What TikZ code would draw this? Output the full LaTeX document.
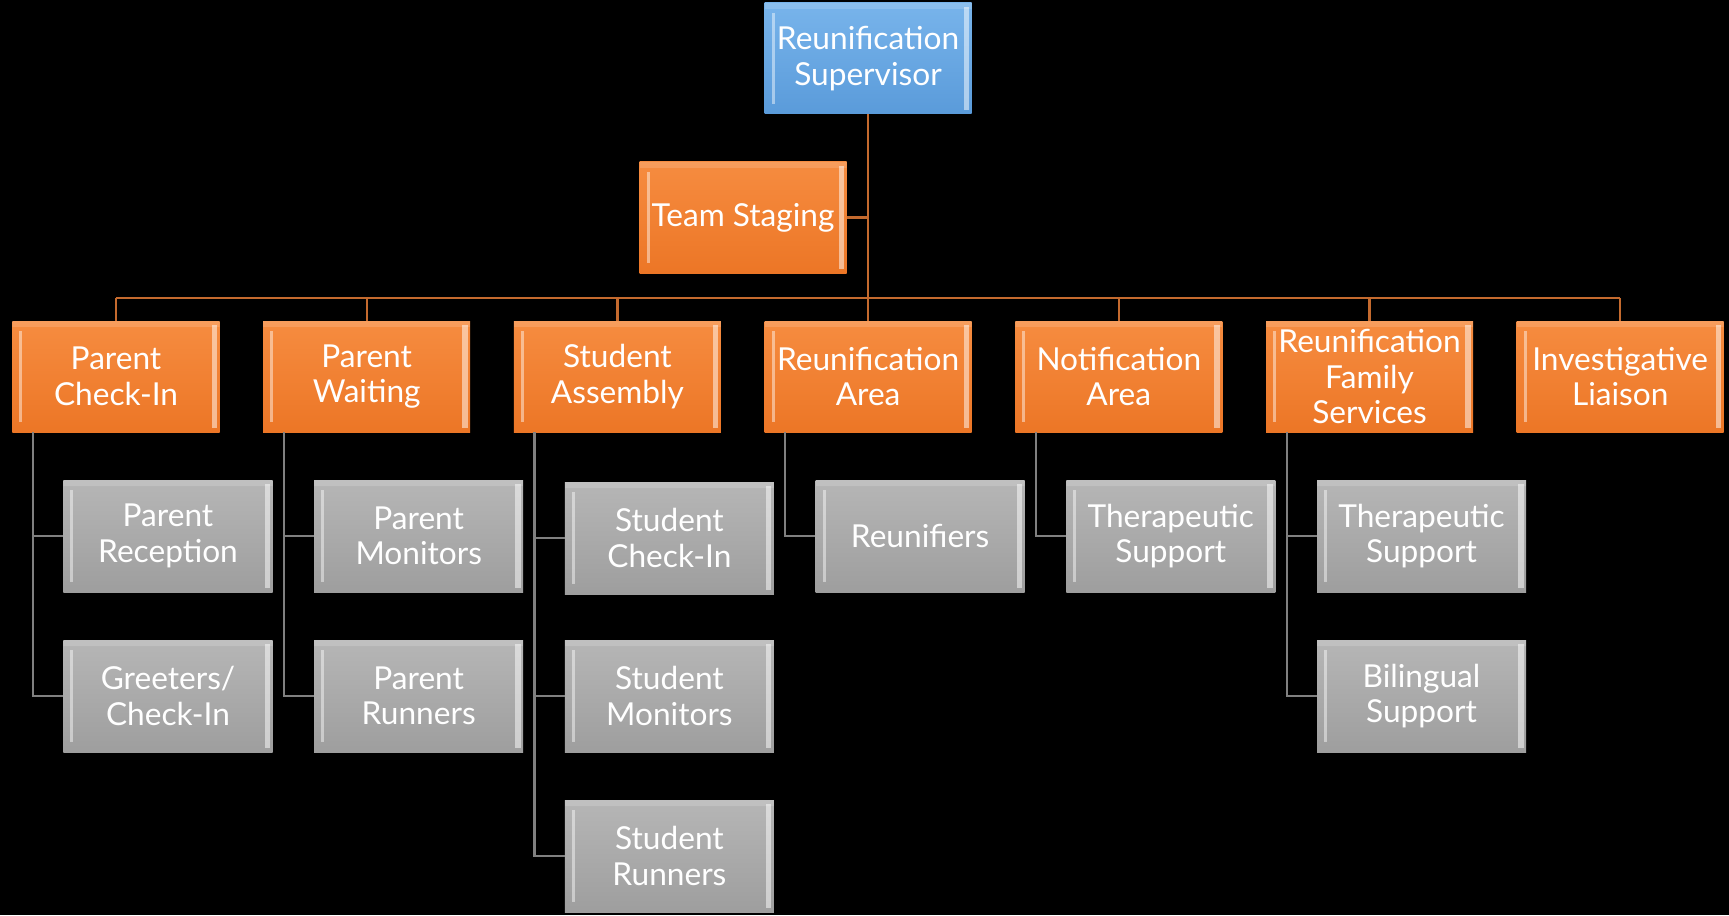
\documentclass[tikz,border=0pt]{standalone}
\usepackage{fontspec}
\setmainfont{Lato}
\definecolor{supblue}{RGB}{90,155,218}
\definecolor{suplight}{RGB}{120,180,235}
\definecolor{teamorange}{RGB}{236,118,38}
\definecolor{teamlight}{RGB}{246,140,64}
\definecolor{staffgray}{RGB}{158,158,158}
\definecolor{stafflight}{RGB}{182,182,182}
\definecolor{olink}{RGB}{196,106,46}
\definecolor{glink}{RGB}{128,128,128}
\tikzset{
  bevel/.style={path picture={
    \fill[white,opacity=.45] ([xshift=1.4mm,yshift=-2mm]path picture bounding box.north west) rectangle ([xshift=2mm,yshift=2mm]path picture bounding box.south west);
    \fill[white,opacity=.5] ([xshift=-1.6mm,yshift=-.8mm]path picture bounding box.north east) rectangle ([xshift=-.5mm,yshift=.8mm]path picture bounding box.south east);
    \fill[white,opacity=.15] ([yshift=-1.2mm]path picture bounding box.north west) rectangle (path picture bounding box.north east);
  }},
  unit/.style={bevel, minimum width=41.4mm, minimum height=22.2mm, inner sep=0pt,
    align=center, text=white, font=\fontsize{18}{20.2}\selectfont},
  lead/.style={unit, top color=suplight, bottom color=supblue},
  area/.style={unit, top color=teamlight, bottom color=teamorange},
  staff/.style={unit, minimum width=41.8mm, minimum height=22.4mm, top color=stafflight, bottom color=staffgray},
  olinks/.style={draw=olink, line width=.45mm},
  glinks/.style={draw=glink, line width=.45mm}
}
\begin{document}
\begin{tikzpicture}[x=.2mm,y=-.2mm]
\fill[black] (0,0) rectangle (1729,915);
\useasboundingbox (0,0) rectangle (1729,915);
% top of the chart
\node[lead] (sup) at (868,58.5) {Reunification\\Supervisor};
\node[area] (stage) at (743,217.5) {Team Staging};
\coordinate (bus) at (0,298);
% area leads
\node[area] (pci) at (116,376.5) {Parent\\Check-In};
\node[area] (pwt) at (366.7,376.5) {Parent\\Waiting};
\node[area] (sas) at (617.4,376.5) {Student\\Assembly};
\node[area] (rar) at (868.1,376.5) {Reunification\\Area};
\node[area] (nar) at (1118.8,376.5) {Notification\\Area};
\node[area] (rfs) at (1369.5,376.5) {Reunification\\Family\\Services};
\node[area] (inv) at (1620.2,376.5) {Investigative\\Liaison};
% staff
\node[staff] (prc) at (168,536) {Parent\\Reception};
\node[staff] (grt) at (168,696) {Greeters/\\Check-In};
\node[staff] (pmo) at (418.7,536) {Parent\\Monitors};
\node[staff] (pru) at (418.7,696) {Parent\\Runners};
\node[staff] (sci) at (669.4,538) {Student\\Check-In};
\node[staff] (smo) at (669.4,696) {Student\\Monitors};
\node[staff] (sru) at (669.4,856) {Student\\Runners};
\node[staff] (reu) at (920.1,536) {Reunifiers};
\node[staff] (nts) at (1170.8,536) {Therapeutic\\Support};
\node[staff] (fts) at (1421.5,536) {Therapeutic\\Support};
\node[staff] (bil) at (1421.5,696) {Bilingual\\Support};
% connectors
\draw[olinks] (sup.south) -- (sup.south |- bus);
\draw[olinks] (stage.east) -- (stage.east -| sup.south);
\draw[olinks] (pci.north |- bus) -- (inv.north |- bus);
\foreach \a in {pci,pwt,sas,rar,nar,rfs,inv}
  \draw[olinks] (\a.north) -- (\a.north |- bus);
\draw[glinks] (pci.south west) ++(21,0) |- (prc.west) (pci.south west) ++(21,0) |- (grt.west);
\draw[glinks] (pwt.south west) ++(21,0) |- (pmo.west) (pwt.south west) ++(21,0) |- (pru.west);
\draw[glinks] (sas.south west) ++(21,0) |- (sci.west) (sas.south west) ++(21,0) |- (smo.west)
  (sas.south west) ++(21,0) |- (sru.west);
\draw[glinks] (rar.south west) ++(21,0) |- (reu.west);
\draw[glinks] (nar.south west) ++(21,0) |- (nts.west);
\draw[glinks] (rfs.south west) ++(21,0) |- (fts.west) (rfs.south west) ++(21,0) |- (bil.west);
\end{tikzpicture}
\end{document}
